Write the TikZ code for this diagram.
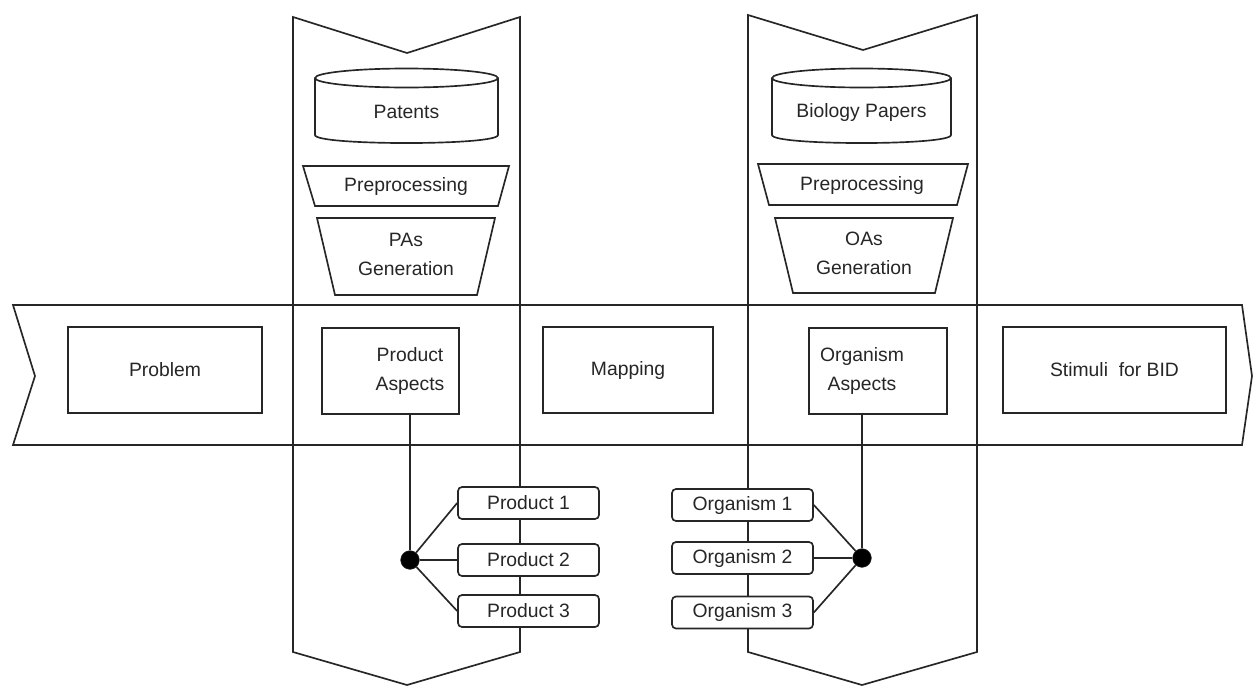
\documentclass[tikz,border=0pt]{standalone}
\usepackage{fontspec}
\setmainfont{Liberation Sans}
\definecolor{ink}{HTML}{262626}
\begin{document}
\begin{tikzpicture}[x=0.75pt,y=-0.75pt]
\tikzset{
  ln/.style={draw=ink, line width=1.25pt, line join=miter},
  lbl/.style={font=\fontsize{14.5}{21.75}\selectfont, text=ink, align=center, inner sep=0pt},
  box/.style={ln, fill=white, inner sep=0pt, minimum height=64.5pt},
  item/.style={ln, fill=white, rounded corners=3pt, inner sep=0pt, minimum width=105.75pt, minimum height=24pt, font=\fontsize{14.5}{17}\selectfont, text=ink},
  hub/.style={circle, fill=black, draw=ink, minimum size=14pt, inner sep=0pt}
}
\useasboundingbox (0,0) rectangle (1253,686);
% vertical bands
\draw[ln] (293,17) -- (407,53) -- (520,17) -- (520,652) -- (407,685) -- (293,652) -- cycle;
\draw[ln] (748,15) -- (863,50) -- (977,15) -- (977,652) -- (862,685) -- (748,652) -- cycle;
% horizontal band
\draw[ln] (13,305) -- (1242,305) -- (1252,376) -- (1242,445) -- (13,445) -- (35,376) -- cycle;
% cylinders
\draw[ln] (315,78) -- (315,135) .. controls (315,145.7) and (498,145.7) .. (498,135) -- (498,78);
\draw[ln] (406.5,78) ellipse [x radius=91.5, y radius=9.5];
\node[lbl] (patents) at (406.5,112) {Patents};
\draw[ln] (772,78) -- (772,135) .. controls (772,145.7) and (951,145.7) .. (951,135) -- (951,78);
\draw[ln] (861.5,78) ellipse [x radius=89.5, y radius=9.5];
\node[lbl] (bio) at (861.5,112) {Biology Papers};
% trapezoids
\draw[ln] (303,166) -- (509,166) -- (498,206) -- (315,206) -- cycle;
\node[lbl] (pre1) at (406,186) {Preprocessing};
\draw[ln] (317,218) -- (495,218) -- (477,295) -- (335,295) -- cycle;
\node[lbl] (gen1) at (406,254) {PAs\\Generation};
\draw[ln] (758,164) -- (968,164) -- (957,205) -- (769,205) -- cycle;
\node[lbl] (pre2) at (862,185) {Preprocessing};
\draw[ln] (775,218) -- (953,218) -- (935,293) -- (793,293) -- cycle;
\node[lbl] (gen2) at (864,253) {OAs\\Generation};
% main boxes
\node[box, minimum width=145.5pt] (problem) at (165,370) {};
\node[lbl] at (problem) {Problem};
\node[box, minimum width=102.75pt] (pa) at (390.5,371) {};
\node[lbl] (patext) at (410,371) {Product\\Aspects};
\node[box, minimum width=127.5pt] (mapping) at (628,370) {};
\node[lbl] at (mapping) {Mapping};
\node[box, minimum width=103.5pt] (oa) at (878,371) {};
\node[lbl] (oatext) at (862,371) {Organism\\Aspects};
\node[box, minimum width=167.25pt] (stimuli) at (1114.5,370) {};
\node[lbl] at (stimuli) {Stimuli\ \ for BID};
% hubs
\node[hub] (hl) at (410,560) {};
\node[hub] (hr) at (862,558) {};
% items
\node[item] (p1) at (528.5,503) {Product 1};
\node[item] (p2) at (528.5,560) {Product 2};
\node[item] (p3) at (528.5,611) {Product 3};
\node[item] (o1) at (742.5,505) {Organism 1};
\node[item] (o2) at (742.5,558) {Organism 2};
\node[item] (o3) at (742.5,612.5) {Organism 3};
% connectors
\draw[ln] (hl |- pa.south) -- (hl);
\draw[ln] (hr |- oa.south) -- (hr);
\draw[ln] (hl) -- (p1.west);
\draw[ln] (hl) -- (p2.west);
\draw[ln] (hl) -- (p3.west);
\draw[ln] (hr) -- (o1.east);
\draw[ln] (hr) -- (o2.east);
\draw[ln] (hr) -- (o3.east);
\end{tikzpicture}
\end{document}
